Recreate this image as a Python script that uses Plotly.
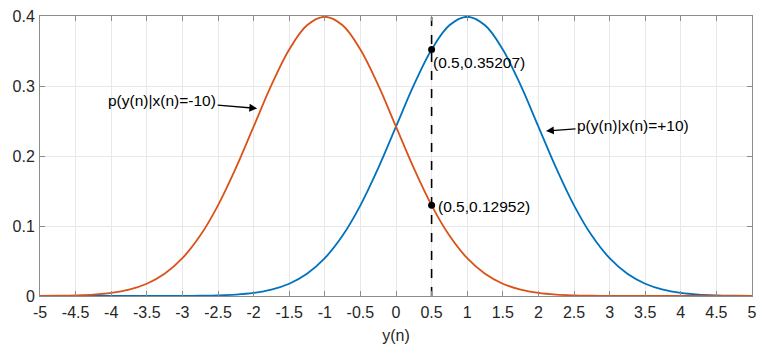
import plotly.graph_objects as go

# x grid (y(n) values)
yn = [-5, -4.75, -4.5, -4.25, -4, -3.75, -3.5, -3.25, -3, -2.75, -2.5, -2.25, -2,
      -1.75, -1.5, -1.25, -1, -0.75, -0.5, -0.25, 0, 0.25, 0.5, 0.75, 1, 1.25, 1.5,
      1.75, 2, 2.25, 2.5, 2.75, 3, 3.25, 3.5, 3.75, 4, 4.25, 4.5, 4.75, 5]

# p(y(n)|x(n)=-10)  (orange curve)
p_minus = [0.0001, 0.0004, 0.0009, 0.0020, 0.0044, 0.0091, 0.0175, 0.0317, 0.0540,
           0.0863, 0.1295, 0.1826, 0.2420, 0.3011, 0.3521, 0.3867, 0.3989, 0.3867,
           0.3521, 0.3011, 0.2420, 0.1826, 0.1295, 0.0863, 0.0540, 0.0317, 0.0175,
           0.0091, 0.0044, 0.0020, 0.0009, 0.0004, 0.0001, 0, 0, 0, 0, 0, 0, 0, 0]

# p(y(n)|x(n)=+10)  (blue curve)
p_plus = [0, 0, 0, 0, 0, 0, 0, 0, 0.0001, 0.0004, 0.0009, 0.0020, 0.0044, 0.0091,
          0.0175, 0.0317, 0.0540, 0.0863, 0.1295, 0.1826, 0.2420, 0.3011, 0.3521,
          0.3867, 0.3989, 0.3867, 0.3521, 0.3011, 0.2420, 0.1826, 0.1295, 0.0863,
          0.0540, 0.0317, 0.0175, 0.0091, 0.0044, 0.0020, 0.0009, 0.0004, 0.0001]

# marked points on threshold line
pt_x = [0.5, 0.5]
pt_y = [0.35207, 0.12952]
pt_labels = ["(0.5,0.35207)", "(0.5,0.12952)"]

threshold_x = [0.5, 0.5]
threshold_y = [0, 0.4]

x_ticks = [-5, -4.5, -4, -3.5, -3, -2.5, -2, -1.5, -1, -0.5, 0, 0.5, 1, 1.5, 2,
           2.5, 3, 3.5, 4, 4.5, 5]
x_ticklabels = ["-5", "-4.5", "-4", "-3.5", "-3", "-2.5", "-2", "-1.5", "-1", "-0.5",
                "0", "0.5", "1", "1.5", "2", "2.5", "3", "3.5", "4", "4.5", "5"]
y_ticks = [0, 0.1, 0.2, 0.3, 0.4]
y_ticklabels = ["0", "0.1", "0.2", "0.3", "0.4"]

BLUE = "#0072BD"
ORANGE = "#D95319"
FONT = "Liberation Sans, Arial, sans-serif"
TXT = "#262626"

fig = go.Figure()
fig.add_trace(go.Scatter(x=yn, y=p_plus, mode="lines",
                         line=dict(color=BLUE, width=1.8, shape="spline"),
                         showlegend=False))
fig.add_trace(go.Scatter(x=yn, y=p_minus, mode="lines",
                         line=dict(color=ORANGE, width=1.8, shape="spline"),
                         showlegend=False))
fig.add_trace(go.Scatter(x=threshold_x, y=threshold_y, mode="lines",
                         line=dict(color="black", width=1.6, dash="dash"),
                         showlegend=False))
fig.add_trace(go.Scatter(x=pt_x, y=pt_y, mode="markers",
                         marker=dict(color="black", size=7),
                         showlegend=False))

fig.add_annotation(x=pt_x[0], y=pt_y[0], text=pt_labels[0], showarrow=False,
                   xanchor="left", yanchor="middle", xshift=-1, yshift=-13,
                   font=dict(family=FONT, size=15.5, color="black"))
fig.add_annotation(x=pt_x[1], y=pt_y[1], text=pt_labels[1], showarrow=False,
                   xanchor="left", yanchor="middle", xshift=4, yshift=-1,
                   font=dict(family=FONT, size=15.5, color="black"))

fig.add_annotation(x=-1.95, y=0.268, text="p(y(n)|x(n)=-10)", showarrow=True,
                   ax=-95, ay=-8, arrowhead=2, arrowsize=1.2, arrowwidth=1.3,
                   arrowcolor="black",
                   font=dict(family=FONT, size=15.5, color="black"))
fig.add_annotation(x=2.107, y=0.2357, text="p(y(n)|x(n)=+10)", showarrow=True,
                   ax=87, ay=-6, arrowhead=2, arrowsize=1.2, arrowwidth=1.3,
                   arrowcolor="black",
                   font=dict(family=FONT, size=15.5, color="black"))

axis_common = dict(
    showline=True, linecolor="#8c8c8c", linewidth=1, mirror="allticks",
    ticks="inside", ticklen=5, tickcolor="#8c8c8c", tickwidth=1,
    showgrid=True, gridcolor="#e8e8e8", gridwidth=1, zeroline=False,
    automargin=False,
    tickfont=dict(family=FONT, size=16, color=TXT),
)

fig.update_xaxes(range=[-5, 5], tickvals=x_ticks, ticktext=x_ticklabels,
                 ticklabelstandoff=2,
                 title=dict(text="y(n)", font=dict(family=FONT, size=16, color=TXT),
                            standoff=12),
                 **axis_common)
fig.update_yaxes(range=[0, 0.4], tickvals=y_ticks, ticktext=y_ticklabels,
                 ticklabelstandoff=1,
                 **axis_common)

fig.update_layout(width=774, height=344,
                  margin=dict(l=40, r=22, t=16, b=48),
                  paper_bgcolor="white", plot_bgcolor="white",
                  font=dict(family=FONT, size=16, color=TXT))

fig.write_html("out.html")
